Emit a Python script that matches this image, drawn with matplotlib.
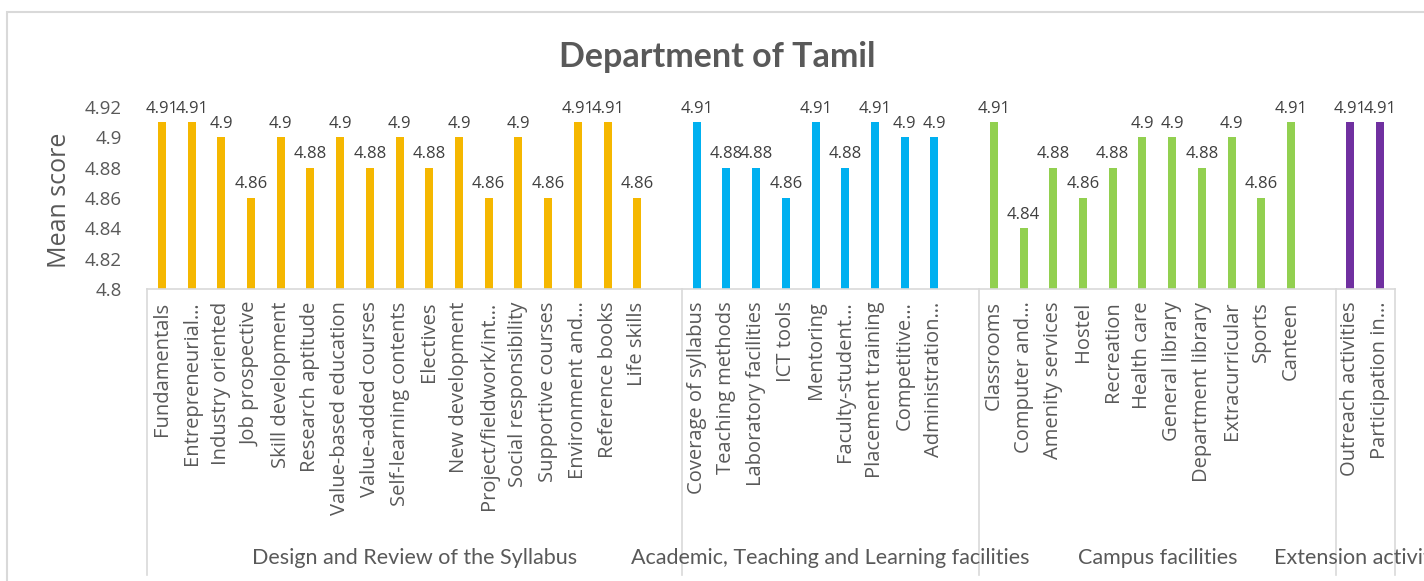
import matplotlib
matplotlib.use("Agg")
import matplotlib.pyplot as plt
import matplotlib.transforms as mtransforms
from matplotlib.patches import Rectangle

# category groups and their items
groups = ["Design and Review of the Syllabus",
          "Academic, Teaching and Learning facilities",
          "Campus facilities",
          "Extension activities"]

syllabus = ["Fundamentals", "Entrepreneurial…", "Industry oriented", "Job prospective",
            "Skill development", "Research aptitude", "Value-based education",
            "Value-added courses", "Self-learning contents", "Electives", "New development",
            "Project/fieldwork/int…", "Social responsibility", "Supportive courses",
            "Environment and…", "Reference books", "Life skills"]
syllabus_vals = [4.91, 4.91, 4.9, 4.86, 4.9, 4.88, 4.9, 4.88, 4.9, 4.88, 4.9,
                 4.86, 4.9, 4.86, 4.91, 4.91, 4.86]

academic = ["Coverage of syllabus", "Teaching methods", "Laboratory facilities", "ICT tools",
            "Mentoring", "Faculty-student…", "Placement training", "Competitive…",
            "Administration…"]
academic_vals = [4.91, 4.88, 4.88, 4.86, 4.91, 4.88, 4.91, 4.9, 4.9]

campus = ["Classrooms", "Computer and…", "Amenity services", "Hostel", "Recreation",
          "Health care", "General library", "Department library", "Extracurricular",
          "Sports", "Canteen"]
campus_vals = [4.91, 4.84, 4.88, 4.86, 4.88, 4.9, 4.9, 4.88, 4.9, 4.86, 4.91]

extension = ["Outreach activities", "Participation in…"]
extension_vals = [4.91, 4.91]

colors = ["#F5B700", "#00B0F0", "#92D050", "#7030A0"]

W, H = 1424, 581
fig = plt.figure(figsize=(W / 100, H / 100), dpi=100)

# chart border (Excel style, cut on right/bottom)
fig.patches.append(Rectangle((7 / W, -0.1), 1.2, 1 - 12 / H + 0.1, transform=fig.transFigure,
                             fill=False, edgecolor="#D9D9D9", linewidth=1.5))

left, right_px, bottom_px, top_px = 147, 1395, 289, 107
ax = fig.add_axes([left / W, 1 - bottom_px / H, (right_px - left) / W, (bottom_px - top_px) / H])

labels_all = []
pos_all = []
pos = 0
seps = []
centers = []
all_items = [syllabus, academic, campus, extension]
all_vals = [syllabus_vals, academic_vals, campus_vals, extension_vals]
for gi, (items, vals, col) in enumerate(zip(all_items, all_vals, colors)):
    start = pos - 0.5
    xs = list(range(pos, pos + len(items)))
    ax.bar(xs, vals, width=0.27, color=col, zorder=2)
    for x, v in zip(xs, vals):
        ax.annotate(f"{v:g}", (x, v), xytext=(0, 4), textcoords="offset points",
                    ha="center", va="bottom", fontsize=12, color="#404040",
                    family="Open Sans", annotation_clip=False)
    labels_all += items
    pos_all += xs
    pos += len(items) + 1
    # the last group has no trailing blank slot
    end = pos - 0.5 if gi < len(all_items) - 1 else pos - 1.5
    seps.append(end)
    centers.append((start + end) / 2)

ax.set_xlim(-0.5, 41.5)
ax.set_ylim(4.8, 4.92)
ax.set_yticks([4.8, 4.82, 4.84, 4.86, 4.88, 4.9, 4.92])
ax.set_yticklabels(["4.8", "4.82", "4.84", "4.86", "4.88", "4.9", "4.92"])
ax.set_xticks(pos_all)
ax.set_xticklabels(labels_all, rotation=90, va="top", ha="center")
ax.tick_params(axis="x", length=0, pad=9, labelsize=14.5, labelcolor="#595959")
ax.tick_params(axis="y", length=0, pad=18, labelsize=13.5, labelcolor="#595959")
for lab in ax.get_xticklabels() + ax.get_yticklabels():
    lab.set_family("Open Sans")

for s in ["top", "right", "left"]:
    ax.spines[s].set_visible(False)
ax.spines["bottom"].set_color("#D9D9D9")
ax.spines["bottom"].set_linewidth(1.2)

# multi-level category separators
trans = mtransforms.blended_transform_factory(ax.transData, ax.transAxes)
depth = -(575 - bottom_px) / (bottom_px - top_px)
for x in [-0.5] + seps:
    ax.plot([x, x], [0, depth], transform=trans, color="#D9D9D9", linewidth=1.2,
            clip_on=False)
gy = -(558 - bottom_px) / (bottom_px - top_px)
for c, g in zip(centers, groups):
    ax.text(c, gy, g, transform=trans, ha="center", va="center", fontsize=15.5,
            color="#595959", family="Lato", clip_on=False)

fig.text(0.504, 1 - 57 / H, "Department of Tamil", ha="center", va="center",
         fontsize=24.5, fontweight="bold", color="#595959", family="Lato")
fig.text(60 / W, 1 - 200 / H, "Mean score", rotation=90, ha="center", va="center",
         fontsize=18, color="#595959", family="Open Sans")

fig.savefig("out.png", dpi=100)
